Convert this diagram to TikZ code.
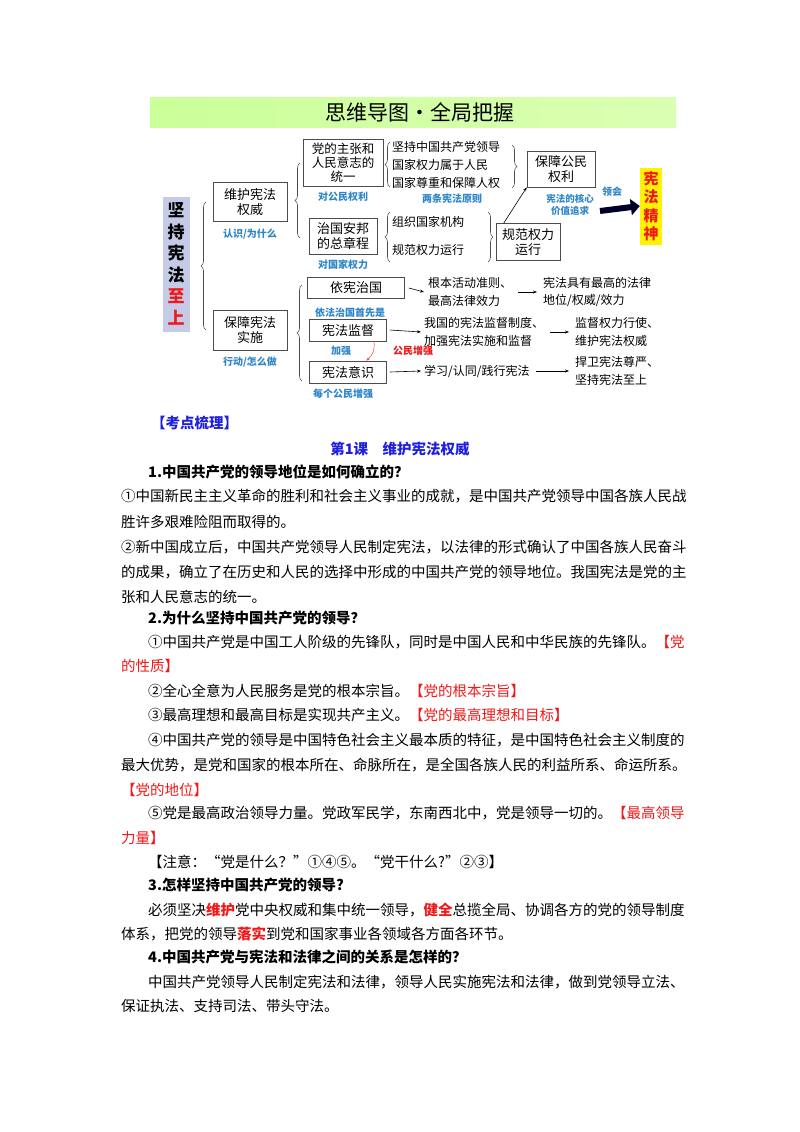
\documentclass[tikz,border=0pt]{standalone}
\usepackage{fontspec}
\setmainfont{Noto Sans CJK SC}
\usetikzlibrary{decorations.pathreplacing,arrows.meta,shadings}
\definecolor{lblue}{HTML}{2E86C8}
\definecolor{dblue}{HTML}{1F1FE0}
\definecolor{tred}{HTML}{F01818}
\definecolor{lav}{HTML}{C5CAE6}
\begin{document}
\begin{tikzpicture}[x=1pt,y=-1pt,
  bx/.style={draw=black!70,line width=0.6pt,fill=white,align=center,font=\fontsize{13}{15}\selectfont,inner sep=2pt},
  lb/.style={text=lblue,font=\fontsize{10}{12}\selectfont\bfseries},
  tx/.style={align=left,anchor=west,font=\fontsize{12}{17.5}\selectfont,inner sep=0pt},
  ar/.style={-{Stealth[length=4pt]},line width=0.6pt},
  br/.style={decorate,decoration={brace,amplitude=5pt},line width=0.6pt,draw=black!70},
  body/.style={anchor=west,inner sep=0pt,font=\fontsize{14.5}{16}\selectfont},
  hd/.style={anchor=west,inner sep=0pt,font=\fontsize{14.5}{16}\selectfont\bfseries},
  rd/.style={text=tred}]
\useasboundingbox (0,0) rectangle (800,1132);
% title bar
\shade[left color=green!35!lime!40!white,right color=green!30!lime!30!white] (150,97) rectangle (676,127);
\node[font=\fontsize{21}{22}\selectfont] (title) at (420,112) {思维导图·全局把握};
% root
\node[fill=lav,minimum width=27pt,minimum height=135pt,inner sep=1pt,align=center,font=\fontsize{17}{21.5}\selectfont\bfseries] (root) at (176,264) {坚\\持\\宪\\法\\\textcolor{tred}{至}\\\textcolor{tred}{上}};
\draw[br] (206,330) -- (206,202);
\node[bx,minimum width=74pt,minimum height=39pt] (wh) at (250,202) {维护宪法\\权威};
\node[lb] (whl) at (250,234) {认识/为什么};
\node[bx,minimum width=74pt,minimum height=40pt] (bz) at (250,330) {保障宪法\\实施};
\node[lb] (bzl) at (250,362) {行动/怎么做};
% upper branch
\draw[br] (300,238) -- (300,163);
\node[bx,minimum width=80pt,minimum height=47pt,font=\fontsize{12.5}{14}\selectfont] (dz) at (343,163) {党的主张和\\人民意志的\\统一};
\node[lb] (dzl) at (343,197) {对公民权利};
\node[bx,minimum width=68pt,minimum height=36pt] (zg) at (343,236) {治国安邦\\的总章程};
\node[lb] (zgl) at (343,265) {对国家权力};
\draw[br] (390,187) -- (390,142);
\node[tx] (p1) at (392,147) {坚持中国共产党领导};
\node[tx] (p2) at (392,165) {国家权力属于人民};
\node[tx] (p3) at (392,183) {国家尊重和保障人权};
\node[lb] (pl) at (452,199) {两条宪法原则};
\draw[br] (512,145) -- (512,188);
\node[bx,minimum width=68pt,minimum height=36pt] (bg) at (561,169) {保障公民\\权利};
\draw[br] (390,262) -- (390,212);
\node[tx] (q1) at (392,222) {组织国家机构};
\node[tx] (q2) at (392,250) {规范权力运行};
\draw[br] (488,212) -- (488,262);
\node[bx,minimum width=64pt,minimum height=37pt] (gf) at (528,242) {规范权力\\运行};
\draw[ar] (gf.north west)++(8,0) -- (bg.south west);
\node[lb,align=center,font=\fontsize{9.5}{12}\selectfont\bfseries] (hx) at (570,205) {宪法的核心\\价值追求};
\node[lb] (lh) at (612,192) {领会};
\node[fill=yellow,minimum width=22pt,minimum height=77pt,inner sep=1pt,align=center,text=tred,font=\fontsize{15}{18.5}\selectfont\bfseries] (jsh) at (651,206) {宪\\法\\精\\神};
\draw[-{Triangle[length=9pt,width=16pt]},line width=6pt,draw=black!85!blue] (600,211) -- (jsh.west);
% lower branch
\draw[br] (302,381) -- (302,285);
\node[bx,minimum width=97pt,minimum height=21pt] (yx) at (356,288) {依宪治国};
\node[lb] (yxl) at (350,313) {依法治国首先是};
\node[bx,minimum width=77pt,minimum height=22pt] (jd) at (348,330) {宪法监督};
\node[lb] (jdl) at (341,351) {加强};
\node[bx,minimum width=77pt,minimum height=22pt] (ys) at (348,372) {宪法意识};
\node[lb] (ysl) at (343,394) {每个公民增强};
\coordinate (rs) at ([xshift=26pt]jd.south);
\coordinate (re) at ([xshift=18pt]ys.north);
\draw[ar,draw=tred!70] (rs) to[bend left=30] (re);
\node[font=\fontsize{10}{12}\selectfont\bfseries,text=tred] (gm) at (413,351) {公民增强};
\node[tx] (a1) at (428,292) {根本活动准则、\\最高法律效力};
\node[tx] (a2) at (543,292) {宪法具有最高的法律\\地位/权威/效力};
\node[tx] (b1) at (424,332) {我国的宪法监督制度、\\加强宪法实施和监督};
\node[tx] (b2) at (575,332) {监督权力行使、\\维护宪法权威};
\node[tx] (c1) at (424,371) {学习/认同/践行宪法};
\node[tx] (c2) at (575,371) {捍卫宪法尊严、\\坚持宪法至上};
\draw[ar] ([xshift=4pt]yx.east) -- ([xshift=-4pt]a1.west);
\draw[ar] ([xshift=6pt]a1.east) -- ([xshift=-6pt]a2.west);
\draw[ar] ([xshift=3pt]jd.east) -- ([xshift=-3pt]b1.west);
\draw[ar] ([xshift=6pt]b1.east) -- ([xshift=-6pt]b2.west);
\draw[ar] ([xshift=3pt]ys.east) -- ([xshift=-3pt]c1.west);
\draw[ar] ([xshift=6pt]c1.east) -- ([xshift=-6pt]c2.west);
% text section
\node[hd,text=dblue] (k) at (151,423) {【考点梳理】};
\node[hd,text=dblue,anchor=center] (l1) at (400,449) {第1课\quad 维护宪法权威};
\node[hd] (h1) at (148,472) {1.中国共产党的领导地位是如何确立的？};
\node[body] (t1) at (121,496) {①中国新民主主义革命的胜利和社会主义事业的成就，是中国共产党领导中国各族人民战};
\node[body] (t2) at (121,522) {胜许多艰难险阻而取得的。};
\node[body] (t3) at (121,547) {②新中国成立后，中国共产党领导人民制定宪法，以法律的形式确认了中国各族人民奋斗};
\node[body] (t4) at (121,572) {的成果，确立了在历史和人民的选择中形成的中国共产党的领导地位。我国宪法是党的主};
\node[body] (t5) at (121,597) {张和人民意志的统一。};
\node[hd] (h2) at (148,618) {2.为什么坚持中国共产党的领导？};
\node[body] (u1) at (148,642) {①中国共产党是中国工人阶级的先锋队，同时是中国人民和中华民族的先锋队。\textcolor{tred}{【党}};
\node[body,rd] (u2) at (121,666) {的性质】};
\node[body] (u3) at (148,691) {②全心全意为人民服务是党的根本宗旨。\textcolor{tred}{【党的根本宗旨】}};
\node[body] (u4) at (148,715) {③最高理想和最高目标是实现共产主义。\textcolor{tred}{【党的最高理想和目标】}};
\node[body] (u5) at (148,740) {④中国共产党的领导是中国特色社会主义最本质的特征，是中国特色社会主义制度的};
\node[body] (u6) at (121,765) {最大优势，是党和国家的根本所在、命脉所在，是全国各族人民的利益所系、命运所系。};
\node[body,rd] (u7) at (121,790) {【党的地位】};
\node[body] (u8) at (148,813) {⑤党是最高政治领导力量。党政军民学，东南西北中，党是领导一切的。\textcolor{tred}{【最高领导}};
\node[body,rd] (u9) at (121,838) {力量】};
\node[body] (u10) at (148,862) {【注意：“党是什么？”①④⑤。“党干什么?”②③】};
\node[hd] (h3) at (148,885) {3.怎样坚持中国共产党的领导?};
\node[body] (v1) at (148,910) {必须坚决\textbf{\textcolor{tred}{维护}}党中央权威和集中统一领导，\textbf{\textcolor{tred}{健全}}总揽全局、协调各方的党的领导制度};
\node[body] (v2) at (121,934) {体系，把党的领导\textbf{\textcolor{tred}{落实}}到党和国家事业各领域各方面各环节。};
\node[hd] (h4) at (148,957) {4.中国共产党与宪法和法律之间的关系是怎样的？};
\node[body] (w1) at (148,982) {中国共产党领导人民制定宪法和法律，领导人民实施宪法和法律，做到党领导立法、};
\node[body] (w2) at (121,1006) {保证执法、支持司法、带头守法。};
\end{tikzpicture}
\end{document}
